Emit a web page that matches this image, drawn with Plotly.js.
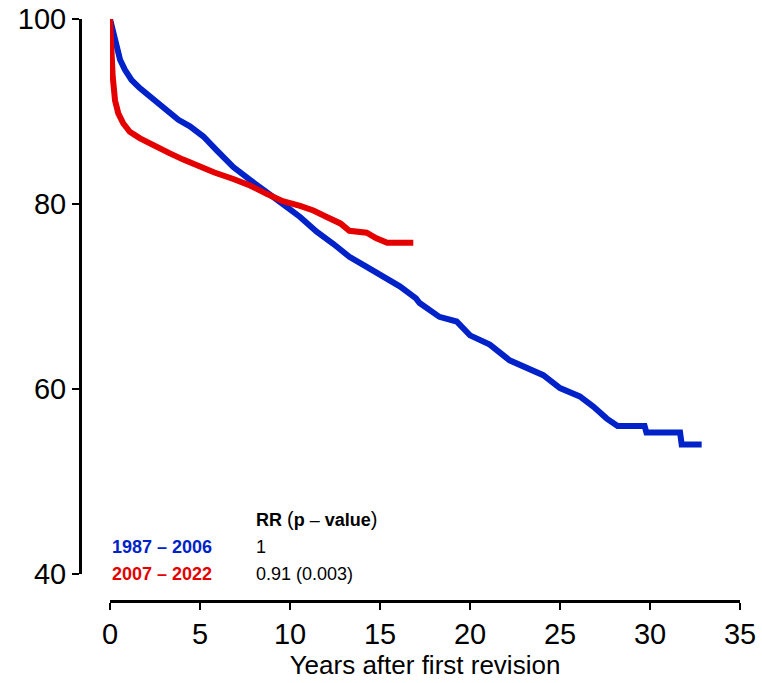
<!DOCTYPE html>
<html>
<head>
<meta charset="utf-8">
<script src="https://cdn.plot.ly/plotly-3.0.1.min.js"></script>
<style>html,body{margin:0;padding:0;background:#fff;}#chart{width:762px;height:683px;}</style>
</head>
<body>
<div id="chart"></div>
<script>
// Blue: 1987 – 2006
const blueYears = [0, 0.05, 0.18, 0.37, 0.56, 0.83, 1.2, 1.67, 2.22, 2.78, 3.33, 3.8, 4.44, 5.19, 5.93, 6.85, 7.78, 8.7, 9.6, 10.56, 11.48, 12.4, 13.3, 14.26, 15.4, 16.1, 17.0, 17.2, 18.3, 19.26, 20.0, 21.1, 22.2, 23.15, 24.07, 25.0, 26.1, 26.85, 27.6, 28.2, 29.7, 29.8, 31.67, 31.76, 32.87];
const blueSurv  = [100, 99.6, 98.8, 97.0, 95.6, 94.5, 93.4, 92.5, 91.6, 90.7, 89.8, 89.1, 88.4, 87.3, 85.8, 84.0, 82.6, 81.2, 80.0, 78.6, 77.0, 75.7, 74.3, 73.2, 72.0, 71.1, 69.8, 69.3, 67.8, 67.3, 65.8, 64.8, 63.1, 62.2, 61.5, 60.1, 59.2, 58.1, 56.8, 56.0, 56.0, 55.3, 55.3, 54.0, 54.0];
// Red: 2007 – 2022
const redYears = [0, 0.02, 0.06, 0.15, 0.28, 0.46, 0.74, 1.1, 1.67, 2.22, 2.78, 3.3, 4.07, 5.0, 5.8, 6.85, 7.78, 8.7, 9.6, 10.56, 11.3, 12.04, 12.8, 13.3, 14.26, 14.8, 15.4, 16.85];
const redSurv  = [100, 99.0, 97.4, 93.8, 91.2, 89.8, 88.7, 87.8, 87.1, 86.5, 86.0, 85.5, 84.8, 84.0, 83.4, 82.7, 82.0, 81.1, 80.3, 79.8, 79.3, 78.6, 77.9, 77.1, 76.9, 76.3, 75.8, 75.8];

const xTicks = [0, 5, 10, 15, 20, 25, 30, 35];
const yTicks = [40, 60, 80, 100];
const groupLabels = ["1987 – 2006", "2007 – 2022"];
const rrLabels = ["1", "0.91 (0.003)"];
const rrHeader = "<b>RR</b> <span style=\"font-size:20px\">(</span><b>p</b> – <b>value</b><span style=\"font-size:20px\">)</span>";
const labelYears = [0, 8];
const labelRows = [46, 42.9, 40];

const BLUE = "#0022C8";
const RED = "#E50000";

const traces = [
  {x: blueYears, y: blueSurv, type: "scatter", mode: "lines", line: {color: BLUE, width: 6, shape: "linear"}, hoverinfo: "skip"},
  {x: redYears, y: redSurv, type: "scatter", mode: "lines", line: {color: RED, width: 6, shape: "linear"}, hoverinfo: "skip"}
];

const annFont = {family: "Liberation Sans, Arial, sans-serif", size: 18, color: "#000"};
const annotations = [
  {x: labelYears[1], y: labelRows[0], xref: "x", yref: "y", text: rrHeader, showarrow: false, xanchor: "left", yanchor: "middle", font: annFont},
  {x: labelYears[0], y: labelRows[1], xref: "x", yref: "y", text: "<b>" + groupLabels[0] + "</b>", showarrow: false, xanchor: "left", yanchor: "middle", font: Object.assign({}, annFont, {color: BLUE})},
  {x: labelYears[0], y: labelRows[2], xref: "x", yref: "y", text: "<b>" + groupLabels[1] + "</b>", showarrow: false, xanchor: "left", yanchor: "middle", font: Object.assign({}, annFont, {color: RED})},
  {x: labelYears[1], y: labelRows[1], xref: "x", yref: "y", text: rrLabels[0], showarrow: false, xanchor: "left", yanchor: "middle", font: annFont},
  {x: labelYears[1], y: labelRows[2], xref: "x", yref: "y", text: rrLabels[1], showarrow: false, xanchor: "left", yanchor: "middle", font: annFont}
];

const layout = {
  width: 762, height: 683,
  margin: {l: 80, r: 22, t: 19, b: 82},
  paper_bgcolor: "#fff", plot_bgcolor: "#fff",
  showlegend: false,
  font: {family: "Liberation Sans, Arial, sans-serif", color: "#000"},
  xaxis: {
    domain: [30/660, 1], anchor: "free", position: 0,
    range: [0, 35], tickvals: xTicks, ticktext: xTicks.map(String),
    ticks: "outside", ticklen: 7, tickwidth: 2.5, tickcolor: "#000",
    showline: true, linecolor: "#000", linewidth: 2.5,
    showgrid: false, zeroline: false,
    tickfont: {size: 29},
    title: {text: "Years after first revision", font: {size: 26}, standoff: 3}
  },
  yaxis: {
    domain: [27/582, 1], anchor: "free", position: 0,
    range: [40, 100], tickvals: yTicks, ticktext: yTicks.map(String),
    ticks: "outside", ticklen: 7, tickwidth: 2.5, tickcolor: "#000",
    showline: true, linecolor: "#000", linewidth: 2.5,
    showgrid: false, zeroline: false,
    tickfont: {size: 29}
  },
  annotations: annotations
};

Plotly.newPlot("chart", traces, layout, {displayModeBar: false, staticPlot: true});
</script>
</body>
</html>
